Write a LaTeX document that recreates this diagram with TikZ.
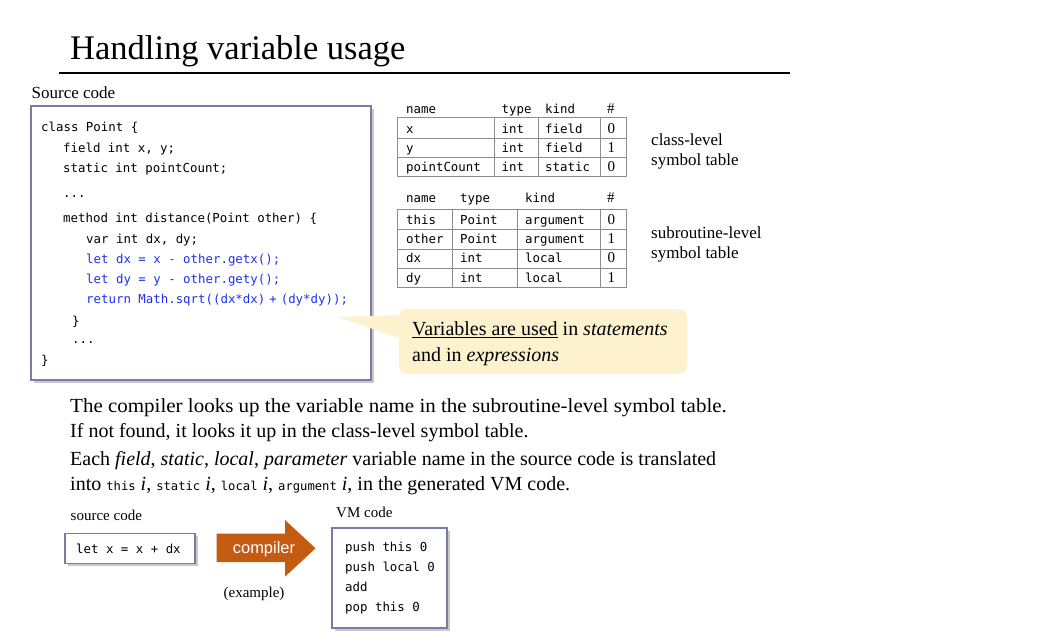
\documentclass[tikz,border=0pt]{standalone}
\usepackage{fontspec}
\setmainfont{Liberation Serif}
\setsansfont{Liberation Sans}
\setmonofont{DejaVu Sans Mono}
\usetikzlibrary{shadows}

\newcommand{\fsz}[1]{\fontsize{#1}{#1}\selectfont}
\newcommand{\wide}[1]{\addfontfeature{FakeStretch=#1}}
\newcommand{\inl}[1]{{\ttfamily\fsz{12.2}#1}}

\definecolor{boxline}{RGB}{118,126,166}
\definecolor{codeblue}{RGB}{30,50,235}
\definecolor{notefill}{RGB}{253,241,206}
\definecolor{arrowfill}{RGB}{197,90,17}
\definecolor{tblline}{RGB}{140,140,140}

\tikzset{
  txt/.style={inner sep=0pt, anchor=base west, font=\fsz{20}},
  small/.style={inner sep=0pt, anchor=base west, font=\fsz{15}},
  label/.style={inner sep=0pt, anchor=base west, font=\fsz{17}},
  code/.style={inner sep=0pt, anchor=base west, font=\ttfamily\fsz{12.4}},
  num/.style={inner sep=0pt, anchor=base west, font=\fsz{15}},
  blue code/.style={code, text=codeblue},
  codebox/.style={draw=boxline, line width=1.5pt, fill=white, anchor=north west,
    inner sep=0pt,
    drop shadow={shadow xshift=3pt, shadow yshift=-3pt, fill=black!35, opacity=0.6}},
  tbl/.style={draw=tblline, line width=1pt},
}

\begin{document}
\begin{tikzpicture}[x=1pt, y=-1pt]
\useasboundingbox (0,0) rectangle (1058,633);
\fill[white] (0,0) rectangle (1058,633);

% title and rule
\node[inner sep=0pt, anchor=base west, font=\fsz{34.5}] (title) at (70,59) {Handling variable usage};
\draw[line width=1.8pt] (59,73) -- (790,73);

% source code panel
\node[label] (srclabel) at (31.5,98.5) {Source code};
\node[codebox, minimum width=340pt, minimum height=274pt] (srcbox) at (30,105) {};
\node[code] (c1)  at (41,131)  {class Point \{};
\node[code] (c2)  at (63,152)  {field int x, y;};
\node[code] (c3)  at (63,172)  {static int pointCount;};
\node[code] (c4)  at (63,197)  {...};
\node[code] (c5)  at (63,222)  {method int distance(Point other) \{};
\node[code] (c6)  at (86,243)  {var int dx, dy;};
\node[blue code] (c7)  at (86,263)  {let dx = x - other.getx();};
\node[blue code] (c8)  at (86,283)  {let dy = y - other.gety();};
\node[blue code] (c9)  at (86,303)  {return Math.sqrt((dx*dx)\hspace{4pt}+\hspace{4pt}(dy*dy));};
\node[code] (c10) at (72,325)  {\}};
\node[code] (c11) at (72,343)  {...};
\node[code] (c12) at (41,364)  {\}};

% class-level symbol table
\draw[tbl] (397.5,117) rectangle (626.5,176);
\draw[tbl] (397.5,138.5) -- (626.5,138.5) (397.5,157.5) -- (626.5,157.5);
\draw[tbl] (494,117) -- (494,176) (538,117) -- (538,176) (600,117) -- (600,176);
\node[code] (ch1) at (406,113) {name};
\node[code] (ch2) at (501.5,113) {type};
\node[code] (ch3) at (545,113) {kind};
\node[num]  (ch4) at (607,113) {\#};
\node[code] (cr1a) at (406,133.5) {x};
\node[code] (cr1b) at (501.5,133.5) {int};
\node[code] (cr1c) at (545,133.5) {field};
\node[num]  (cr1d) at (607.5,133.5) {0};
\node[code] (cr2a) at (406,152.5) {y};
\node[code] (cr2b) at (501.5,152.5) {int};
\node[code] (cr2c) at (545,152.5) {field};
\node[num]  (cr2d) at (607.5,152.5) {1};
\node[code] (cr3a) at (406,171.5) {pointCount};
\node[code] (cr3b) at (501.5,171.5) {int};
\node[code] (cr3c) at (545,171.5) {static};
\node[num]  (cr3d) at (607.5,171.5) {0};
\node[label] (cl1) at (651,145) {class-level};
\node[label] (cl2) at (651,165) {symbol table};

% subroutine-level symbol table
\draw[tbl] (397.5,209.5) rectangle (626.5,287.5);
\draw[tbl] (397.5,229.5) -- (626.5,229.5) (397.5,249) -- (626.5,249) (397.5,268) -- (626.5,268);
\draw[tbl] (452,209.5) -- (452,287.5) (517.5,209.5) -- (517.5,287.5) (600,209.5) -- (600,287.5);
\node[code] (sh1) at (406,202) {name};
\node[code] (sh2) at (460,202) {type};
\node[code] (sh3) at (525,202) {kind};
\node[num]  (sh4) at (607,202) {\#};
\node[code] (sr1a) at (406,224) {this};
\node[code] (sr1b) at (460,224) {Point};
\node[code] (sr1c) at (525,224) {argument};
\node[num]  (sr1d) at (607.5,224) {0};
\node[code] (sr2a) at (406,243.5) {other};
\node[code] (sr2b) at (460,243.5) {Point};
\node[code] (sr2c) at (525,243.5) {argument};
\node[num]  (sr2d) at (607.5,243.5) {1};
\node[code] (sr3a) at (406,262.5) {dx};
\node[code] (sr3b) at (460,262.5) {int};
\node[code] (sr3c) at (525,262.5) {local};
\node[num]  (sr3d) at (607.5,262.5) {0};
\node[code] (sr4a) at (406,282) {dy};
\node[code] (sr4b) at (460,282) {int};
\node[code] (sr4c) at (525,282) {local};
\node[num]  (sr4d) at (607.5,282) {1};
\node[label] (sl1) at (651,238) {subroutine-level};
\node[label] (sl2) at (651,258) {symbol table};

% callout
\fill[notefill, rounded corners=8pt] (399,309) rectangle (687,374);
\fill[notefill] (338,317) -- (402,315) -- (402,339) -- cycle;
\node[txt] (note1) at (412,335) {\underline{Variables are used} in \textit{statements}};
\node[txt] (note2) at (412,361) {and in \textit{expressions}};

% explanation
\node[txt] (p1) at (70,412) {\wide{1.05}The compiler looks up the variable name in the subroutine-level symbol table.};
\node[txt] (p2) at (70,437) {If not found, it looks it up in the class-level symbol table.};
\node[txt] (p3) at (70,465.5) {Each \textit{field}, \textit{static}, \textit{local}, \textit{parameter} variable name in the source code is translated};
\node[txt] (p4) at (70,490) {into \inl{this} \textit{i}, \inl{static} \textit{i}, \inl{local} \textit{i}, \inl{argument} \textit{i}, in the generated VM code.};

% compilation example
\node[small] (srccode) at (70.5,520.5) {source code};
\node[codebox, minimum width=130pt, minimum height=30pt] (letbox) at (64,532.5) {};
\node[code] (letline) at (76,553) {let x = x + dx};
\fill[arrowfill] (216.5,533.5) -- (285,533.5) -- (285,520) -- (315.5,548.3)
  -- (285,576.7) -- (285,562) -- (216.5,562) -- cycle;
\node[inner sep=0pt, anchor=base, font=\sffamily\fsz{16.5}, text=white] (comp) at (264,553.5) {compiler};
\node[inner sep=0pt, anchor=base, font=\fsz{15}] (example) at (254,597) {(example)};
\node[small] (vmlabel) at (336,517) {VM code};
\node[codebox, minimum width=115pt, minimum height=100pt] (vmbox) at (331,527) {};
\node[code] (vm1) at (345,551) {push this 0};
\node[code] (vm2) at (345,571.5) {push local 0};
\node[code] (vm3) at (345,591.5) {add};
\node[code] (vm4) at (345,611.5) {pop this 0};
\end{tikzpicture}
\end{document}
